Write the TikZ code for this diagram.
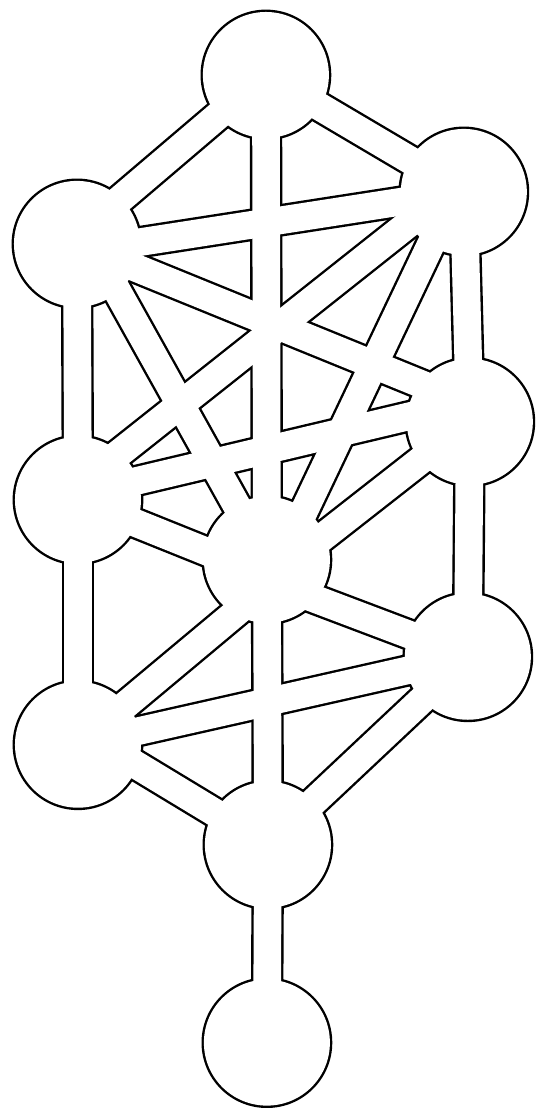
\documentclass[tikz,border=0pt]{standalone}
\usepackage{tikz}
% plain paths, centre to centre
\newcommand{\treePaths}{keter/chokmah, keter/tiferet, chokmah/chesed,
  binah/geburah, chesed/netzach, geburah/hod, hod/netzach, netzach/yesod,
  tiferet/yesod, yesod/malkuth}
\newcommand{\treeDiscs}{keter, chokmah, binah, chesed, geburah, tiferet,
  netzach, hod, yesod, malkuth}
\tikzset{
  discEdge/.style={circle, fill=black, inner sep=0pt, minimum size=3.27cm},
  discFill/.style={fill=white},
  pathEdge/.style={draw=black, line width=0.81cm},
  pathFill/.style={draw=white, line width=0.69cm}
}
\begin{document}
\begin{tikzpicture}[x=0.025cm, y=-0.025cm]
  \fill[white] (0,0) rectangle (536,1108);
  % sephirot
  \node[discEdge] (keter)   at (266,75)   {};
  \node[discEdge] (chokmah) at (464,192)  {};
  \node[discEdge] (binah)   at (77,244)   {};
  \node[discEdge] (chesed)  at (470,422)  {};
  \node[discEdge] (geburah) at (78,500)   {};
  \node[discEdge] (tiferet) at (267,560)  {};
  \node[discEdge] (netzach) at (468,657)  {};
  \node[discEdge] (hod)     at (78,745)   {};
  \node[discEdge] (yesod)   at (268,845)  {};
  \node[discEdge] (malkuth) at (267,1043) {};
  % paths, black rim then white core; shifts follow the hand drawing
  \foreach \style in {pathEdge, pathFill} {
    \foreach \a/\b in \treePaths
      \draw[\style] (\a.center) -- (\b.center);
    \draw[\style] (keter.center) -- ([yshift=0.2cm]binah.center);
    \draw[\style] ([yshift=-0.2cm]binah.center) -- (chokmah.center);
    \draw[\style] ([yshift=0.3cm]chokmah.center) -- ([yshift=0.35cm]geburah.center);
    \draw[\style] (binah.center) -- ([yshift=0.45cm]chesed.center);
    \draw[\style] ([xshift=-0.2cm]chokmah.center) -- ([xshift=0.35cm]tiferet.center);
    \draw[\style] ([xshift=0.35cm]binah.center) -- (tiferet.center);
    \draw[\style] ([yshift=0.5cm]chesed.center) -- ([yshift=0.125cm]geburah.center);
    \draw[\style] (chesed.center) -- ([yshift=-0.525cm]tiferet.center);
    \draw[\style] (geburah.center) -- ([yshift=-0.4cm]tiferet.center);
    \draw[\style] ([yshift=-0.525cm]tiferet.center) -- (netzach.center);
    \draw[\style] ([yshift=-0.675cm]tiferet.center) -- (hod.center);
    \draw[\style] ([yshift=0.375cm]hod.center) -- (yesod.center);
  }
  \foreach \s in \treeDiscs
    \fill[discFill] (\s.center) circle[radius=1.575cm];
\end{tikzpicture}
\end{document}
